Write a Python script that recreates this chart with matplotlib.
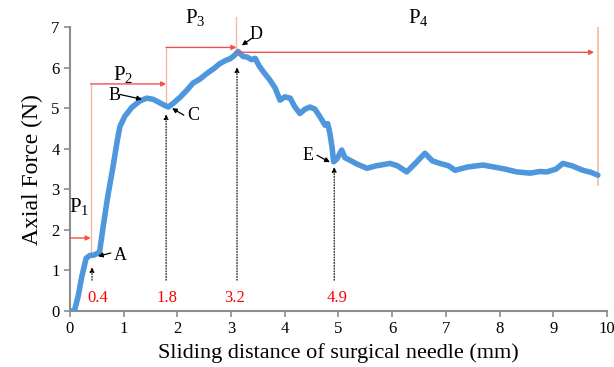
import matplotlib
matplotlib.use("Agg")
import matplotlib.pyplot as plt

# force curve
distance = [0.0, 0.08, 0.15, 0.22, 0.30, 0.37, 0.45, 0.55, 0.62, 0.70, 0.80, 0.88, 0.93,
            1.02, 1.15, 1.30, 1.43, 1.55, 1.65, 1.75, 1.83, 1.92, 2.05, 2.18, 2.29, 2.42,
            2.55, 2.68, 2.79, 2.90, 2.98, 3.06, 3.13, 3.22, 3.30, 3.38, 3.45, 3.52, 3.60,
            3.72, 3.82, 3.91, 4.00, 4.10, 4.18, 4.28, 4.38, 4.47, 4.56, 4.66, 4.75, 4.80,
            4.84, 4.88, 4.91, 4.97, 5.06, 5.12, 5.21, 5.35, 5.53, 5.70, 5.96, 6.10, 6.27,
            6.40, 6.61, 6.75, 6.89, 7.05, 7.17, 7.40, 7.69, 7.90, 8.10, 8.32, 8.57, 8.75,
            8.88, 9.05, 9.18, 9.35, 9.55, 9.70, 9.83]
force = [0.0, 0.0, 0.35, 0.85, 1.30, 1.37, 1.38, 1.45, 2.10, 2.80, 3.55, 4.20, 4.55,
         4.80, 5.02, 5.18, 5.25, 5.22, 5.15, 5.08, 5.03, 5.12, 5.27, 5.45, 5.62, 5.72,
         5.86, 5.98, 6.10, 6.18, 6.22, 6.30, 6.40, 6.28, 6.26, 6.20, 6.23, 6.05, 5.90,
         5.70, 5.50, 5.20, 5.28, 5.25, 5.05, 4.87, 4.98, 5.03, 4.98, 4.78, 4.58, 4.62,
         4.38, 4.04, 3.68, 3.75, 3.97, 3.78, 3.72, 3.62, 3.52, 3.58, 3.64, 3.58, 3.43,
         3.60, 3.89, 3.70, 3.64, 3.58, 3.47, 3.55, 3.60, 3.55, 3.50, 3.43, 3.40, 3.44,
         3.43, 3.50, 3.64, 3.58, 3.47, 3.42, 3.35]

# key points A-E
mark_x = [0.4, 1.8, 3.2, 4.9]
mark_labels = ["0.4", "1.8", "3.2", "4.9"]

# stage boundaries
stage_x = [0.0, 0.385, 1.79, 3.1, 9.83]
stage_y = [1.8, 5.6, 6.5, 6.38]
stage_names = ["P$_1$", "P$_2$", "P$_3$", "P$_4$"]

plt.rcParams["font.family"] = ["Liberation Serif", "DejaVu Serif"]
plt.rcParams["mathtext.fontset"] = "custom"
plt.rcParams["mathtext.rm"] = "Liberation Serif"

fig = plt.figure(figsize=(6.14, 3.67), dpi=100)
ax = fig.add_axes([0.114, 0.1526, 0.8746, 0.7734])

ax.plot(distance, force, color="#4f97dc", lw=4, solid_capstyle="round",
        solid_joinstyle="round", zorder=3)

ax.set_xlim(0, 10)
ax.set_ylim(0, 7)
ax.set_xticks(range(0, 11))
ax.set_yticks(range(0, 8))
for s in ["top", "right"]:
    ax.spines[s].set_visible(False)
for s in ["left", "bottom"]:
    ax.spines[s].set_color("#8c8c8c")
    ax.spines[s].set_linewidth(1.5)
ax.tick_params(colors="#8c8c8c", labelcolor="black", labelsize=12, length=4, width=1.2)
ax.set_xlabel("Sliding distance of surgical needle (mm)", fontsize=16, labelpad=4)
ax.set_ylabel("Axial Force (N)", fontsize=17, labelpad=6)

# dotted guides with small arrowheads
arrow_tops = [1.15, 4.92, 6.08, 3.62]
guide_x = [0.41, 1.79, 3.11, 4.92]
for gx, top in zip(guide_x, arrow_tops):
    ax.annotate("", xy=(gx, top), xytext=(gx, 0.69),
                arrowprops=dict(arrowstyle="-|>", ls=(0, (1, 1.5)), lw=0.8,
                                color="black", mutation_scale=7))

label_pos = [0.52, 1.8, 3.06, 4.97]
for lx, txt in zip(label_pos, mark_labels):
    ax.text(lx, 0.32, txt, color="red", fontsize=12, ha="center", va="center")

# stage boundary lines (light orange) and red arrows
edge = "#f7b89a"
ax.plot([stage_x[1], stage_x[1]], [1.38, 5.6], color=edge, lw=1)
ax.plot([stage_x[2], stage_x[2]], [5.02, 6.5], color=edge, lw=1)
ax.plot([stage_x[3], stage_x[3]], [6.4, 7.25], color=edge, lw=1, clip_on=False)
ax.plot([stage_x[4], stage_x[4]], [3.1, 7.0], color=edge, lw=1.2)
for i in range(4):
    x0 = stage_x[i] if i < 3 else stage_x[3]
    x1 = stage_x[i + 1] if i < 3 else 9.76
    ax.annotate("", xy=(x1, stage_y[i]), xytext=(x0, stage_y[i]),
                arrowprops=dict(arrowstyle="-|>", color="#f25050", lw=1,
                                mutation_scale=7, shrinkA=0, shrinkB=0))

name_pos = [(0.17, 2.56), (0.99, 5.82), (2.33, 7.22), (6.48, 7.22)]
for (nx, ny), nm in zip(name_pos, stage_names):
    ax.text(nx, ny, nm, fontsize=15, ha="center", va="center", clip_on=False)

# letter callouts
letters = ["A", "B", "C", "D", "E"]
text_xy = [(0.93, 1.38), (0.82, 5.32), (2.29, 4.83), (3.47, 6.82), (4.43, 3.84)]
tip_xy = [(0.52, 1.35), (1.34, 5.22), (1.9, 5.0), (3.2, 6.55), (4.84, 3.67)]
tail_xy = [(0.76, 1.43), (0.93, 5.34), (2.12, 4.83), (3.38, 6.72), (4.6, 3.84)]
for lt, txy, tip, tail in zip(letters, text_xy, tip_xy, tail_xy):
    ax.text(txy[0], txy[1], lt, fontsize=13, ha="center", va="center")
    ax.annotate("", xy=tip, xytext=tail,
                arrowprops=dict(arrowstyle="-|>", color="black", lw=0.9,
                                mutation_scale=7, shrinkA=0, shrinkB=0))

fig.savefig("out.png", dpi=100)
